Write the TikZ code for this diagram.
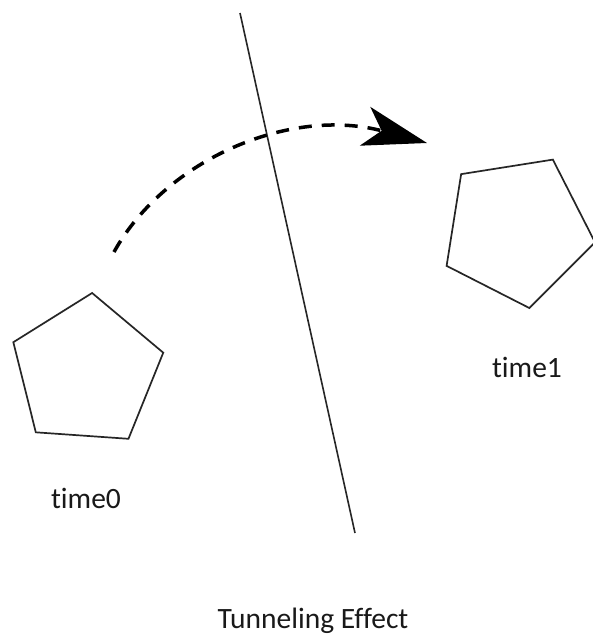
\documentclass[tikz,border=0pt]{standalone}
\usepackage{fontspec}
\setmainfont{Carlito}[Ligatures=NoCommon]
\usetikzlibrary{shapes.geometric,arrows.meta}
\tikzset{
  penta/.style={draw=black!85, line width=1.7pt, regular polygon, regular polygon sides=5,
    minimum size=158pt, inner sep=0pt, outer sep=0pt},
  lbl/.style={anchor=base, font=\fontsize{29.5}{34}\selectfont, text=black!90, inner sep=0pt},
  barrier/.style={draw=black!85, line width=1.6pt},
  jump/.style={line width=3.5pt, dash pattern=on 13pt off 10pt,
    -{Stealth[length=64pt, width=40pt, inset=17pt]}}
}
\begin{document}
\begin{tikzpicture}[x=1pt,y=-1pt]
\useasboundingbox (0,0) rectangle (593,637);
\fill[white] (0,0) rectangle (593,637);
\node[penta, shape border rotate=-4] (p0) at (86.6,371.8) {};
\node[penta, shape border rotate=-27] (p1) at (517,230) {};
\node[lbl] (t0) at (86,508) {time0};
\node[lbl] (t1) at (527,377) {time1};
\node[lbl] (title) at (313,628) {Tunneling Effect};
\coordinate (btop) at (240,13);
\coordinate (bbot) at (355,533);
\draw[barrier] (btop) -- (bbot);
\coordinate (a0) at (114,252);
\coordinate (a1) at (427,143);
\draw[jump] (a0) .. controls (165,160) and (290,106) .. (a1);
\end{tikzpicture}
\end{document}
